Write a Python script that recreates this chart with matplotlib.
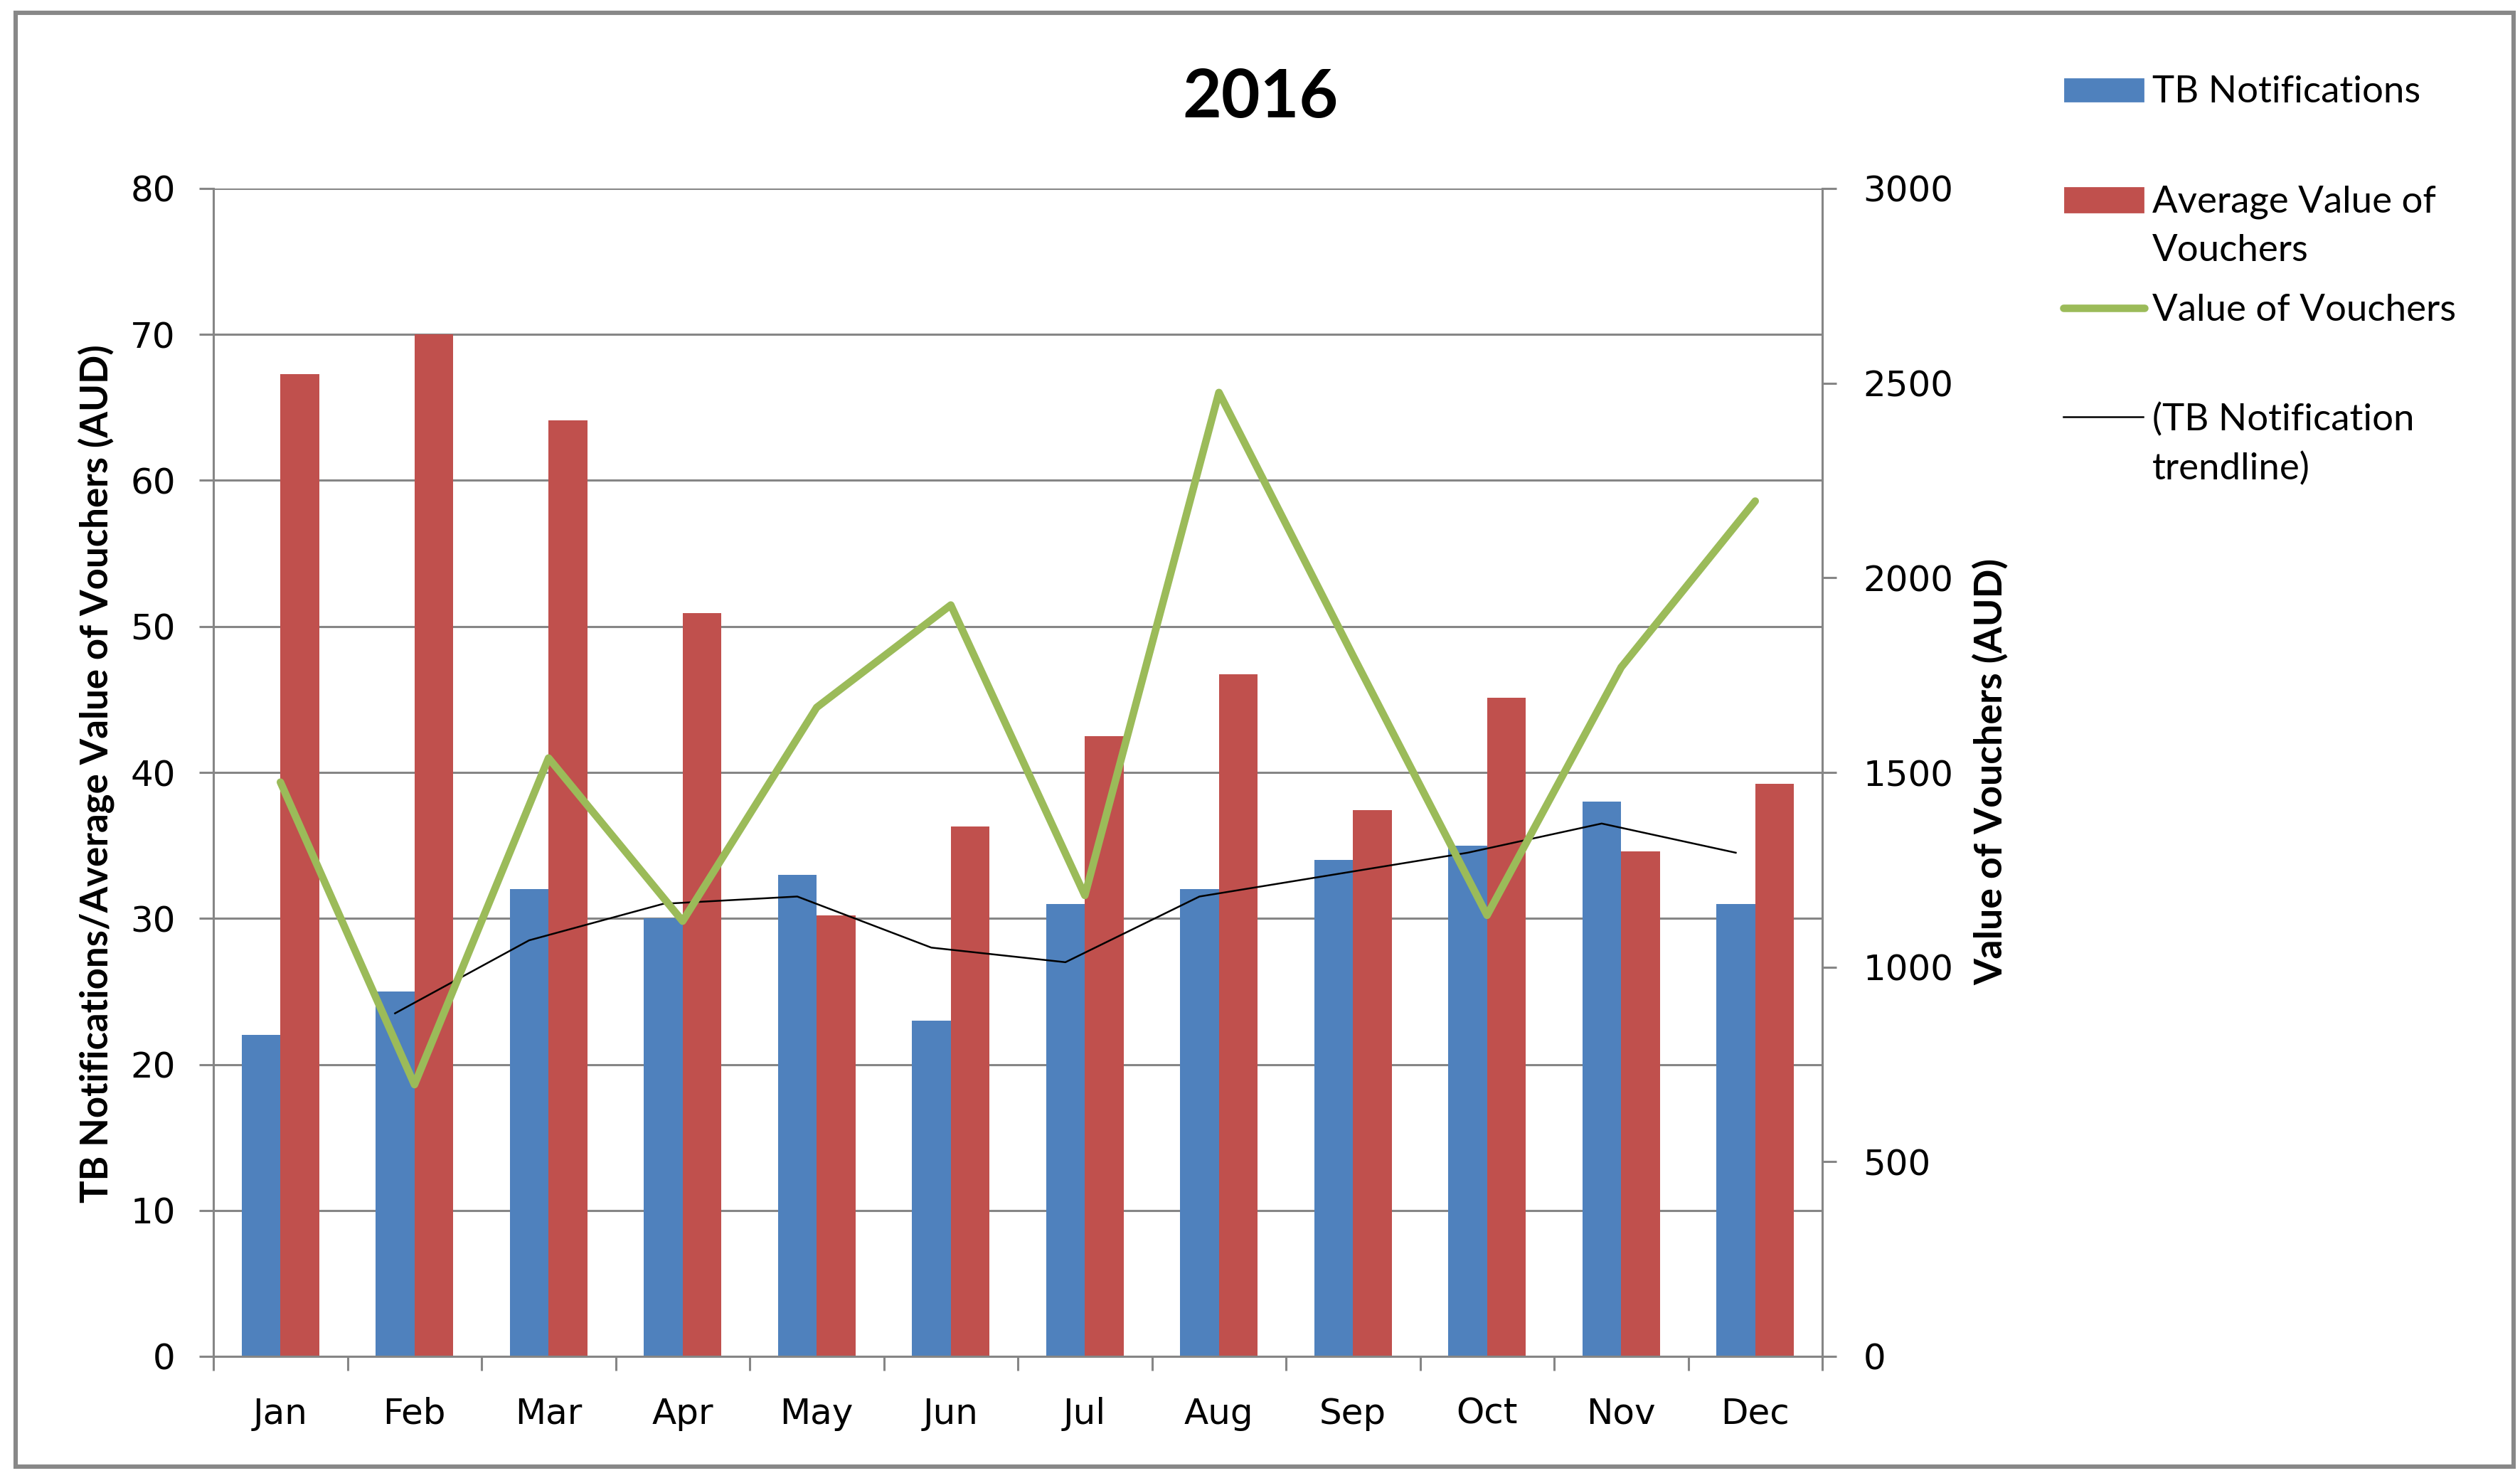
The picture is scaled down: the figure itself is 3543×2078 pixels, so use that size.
"""TB notifications vs. voucher values per month, 2016 (Excel-style combo chart).

Out: out.png
"""
import matplotlib
matplotlib.use("Agg")
import matplotlib.pyplot as plt
from matplotlib.lines import Line2D
from matplotlib.patches import Rectangle
import numpy as np

MONTHS = ["Jan", "Feb", "Mar", "Apr", "May", "Jun",
          "Jul", "Aug", "Sep", "Oct", "Nov", "Dec"]
TB_NOTIFICATIONS = [22, 25, 32, 30, 33, 23, 31, 32, 34, 35, 38, 31]
AVG_VOUCHER = [67.3, 70.0, 64.1, 50.9, 30.2, 36.3, 42.5, 46.7, 37.4, 45.1, 34.6, 39.2]
VOUCHER_VALUE = [1475, 698, 1537, 1118, 1667, 1930, 1184, 2476, 1800, 1133, 1770, 2197]
# 2-period moving-average trendline as drawn (first point is Feb)
TB_TREND = [np.nan, 23.5, 28.5, 31.0, 31.5, 28.0, 27.0, 31.5, 33.0, 34.5, 36.5, 34.5]
LEFT_TICKS = [0, 10, 20, 30, 40, 50, 60, 70, 80]
RIGHT_TICKS = [0, 500, 1000, 1500, 2000, 2500, 3000]

LEGEND_LABELS = ["TB Notifications", "Average Value of\nVouchers",
                 "Value of Vouchers", "(TB Notification\ntrendline)"]

BLUE = "#4F81BD"
RED = "#C0504D"
GREEN = "#9BBB59"
GRID = "#868686"

W, H, DPI = 3543, 2078, 200
TEXT_FONT = "Lato"
TICK_FONT = "DejaVu Sans"


def fx(px):
    return px / W


def fy(py):
    return 1 - py / H


def render(out="out.png"):
    fig = plt.figure(figsize=(W / DPI, H / DPI), dpi=DPI)
    ax = fig.add_axes([fx(300), fy(1907), (2562 - 300) / W, (1907 - 265) / H])
    ax2 = ax.twinx()

    x = np.arange(len(MONTHS))
    bw = 0.29
    ax.bar(x - bw / 2, TB_NOTIFICATIONS, bw, color=BLUE, zorder=2)
    ax.bar(x + bw / 2, AVG_VOUCHER, bw, color=RED, zorder=2)
    ax.plot(x - bw / 2, TB_TREND, color="black", lw=0.9, zorder=3)
    ax2.plot(x, VOUCHER_VALUE, color=GREEN, lw=3.8, solid_joinstyle="round",
             solid_capstyle="round", zorder=3)

    ax.set_xlim(-0.5, len(MONTHS) - 0.5)
    ax.set_ylim(0, 80)
    ax2.set_ylim(0, 3000)

    ax.set_yticks(LEFT_TICKS)
    ax.set_yticklabels([str(v) for v in LEFT_TICKS])
    ax2.set_yticks(RIGHT_TICKS)
    ax2.set_yticklabels([str(v) for v in RIGHT_TICKS])
    ax.yaxis.grid(True, color=GRID, lw=1.1)
    ax.set_axisbelow(True)

    # category boundaries carry the tick marks, month names sit in between
    ax.set_xticks(np.arange(-0.5, len(MONTHS), 1.0))
    ax.set_xticklabels([])
    ax.set_xticks(x, minor=True)
    ax.set_xticklabels(MONTHS, minor=True)

    ax.tick_params(axis="x", which="major", length=7.2, width=1.1, color=GRID)
    ax.tick_params(axis="x", which="minor", length=0, pad=20.5, labelsize=18)
    ax.tick_params(axis="y", length=7.2, width=1.1, color=GRID, pad=12, labelsize=18)
    ax2.tick_params(axis="y", length=7.2, width=1.1, color=GRID, pad=13.5, labelsize=18)
    for lab in ax.get_xticklabels(minor=True) + ax.get_yticklabels() + ax2.get_yticklabels():
        lab.set_fontfamily(TICK_FONT)

    for a in (ax, ax2):
        a.spines["top"].set_visible(False)
    ax.spines["right"].set_visible(False)
    ax2.spines["left"].set_visible(False)
    ax2.spines["bottom"].set_visible(False)
    for s in ("left", "bottom"):
        ax.spines[s].set_color(GRID)
        ax.spines[s].set_linewidth(1.1)
    ax2.spines["right"].set_color(GRID)
    ax2.spines["right"].set_linewidth(1.1)

    fig.text(0.5, fy(165), "2016", ha="center", va="baseline", fontsize=34,
             fontweight="bold", family=TEXT_FONT)
    fig.text(fx(152), fy(1088), "TB Notifications/Average Value of Vouchers (AUD)",
             rotation=90, rotation_mode="anchor", ha="center", va="baseline",
             fontsize=19, fontweight="bold", family=TEXT_FONT)
    fig.text(fx(2815), fy(1085), "Value of Vouchers (AUD)",
             rotation=90, rotation_mode="anchor", ha="center", va="baseline",
             fontsize=19.3, fontweight="bold", family=TEXT_FONT)

    # legend, laid out by hand like Excel does it
    fig.patches.append(Rectangle((fx(2903), fy(142)), 110 / W, 31 / H,
                                 transform=fig.transFigure, color=BLUE))
    fig.patches.append(Rectangle((fx(2903), fy(298)), 110 / W, 34 / H,
                                 transform=fig.transFigure, color=RED))
    fig.lines.append(Line2D([fx(2901), fx(3015)], [fy(433), fy(433)],
                            transform=fig.transFigure, color=GREEN, lw=3.8,
                            solid_capstyle="round"))
    fig.lines.append(Line2D([fx(2901), fx(3013)], [fy(586), fy(586)],
                            transform=fig.transFigure, color="black", lw=0.9))
    baselines = [144, 298, 451, 605]
    for label, base in zip(LEGEND_LABELS, baselines):
        for i, line in enumerate(label.split("\n")):
            fig.text(fx(3026), fy(base + 69 * i), line, ha="left", va="baseline",
                     fontsize=19, family=TEXT_FONT)

    fig.patches.append(Rectangle((fx(22), fy(2062)), (3534 - 22) / W, (2062 - 18) / H,
                                 transform=fig.transFigure, fill=False,
                                 edgecolor="#888888", lw=2.2))

    fig.savefig(out, dpi=DPI)
    plt.close(fig)
    return out


def main():
    print(f"wrote {render()}")
    return 0


if __name__ == "__main__":
    raise SystemExit(main())
